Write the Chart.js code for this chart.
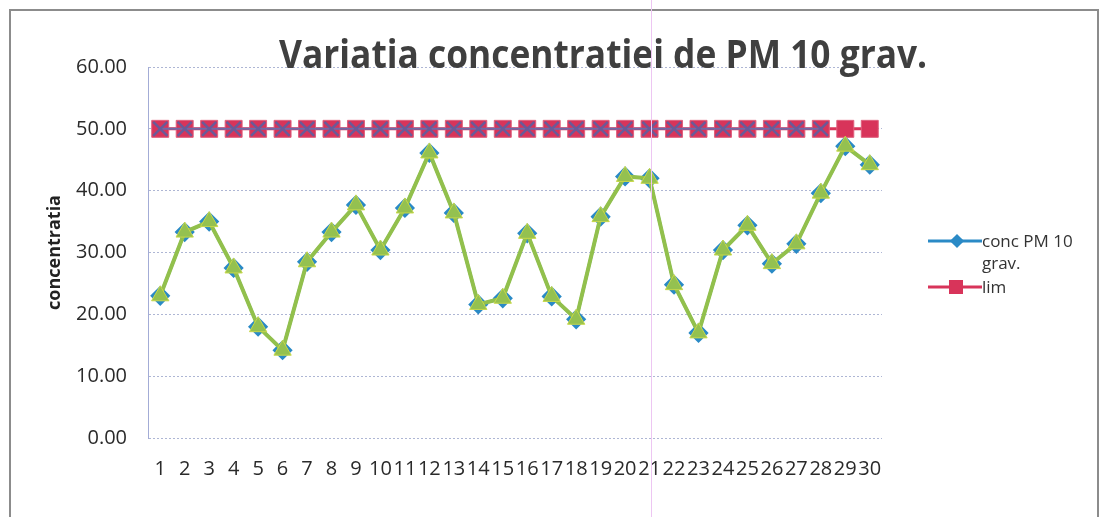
<!DOCTYPE html>
<html>
<head>
<meta charset="utf-8">
<script src="https://cdn.jsdelivr.net/npm/chart.js@4/dist/chart.umd.min.js"></script>
<style>
  body { margin: 0; background: #fff; font-family: 'Open Sans', sans-serif; }
  #wrap { position: relative; width: 1104px; height: 517px; overflow: hidden; }
  #frame { position: absolute; left: 9px; top: 9px; width: 1086px; height: 560px; border: 2px solid #8c8c8c; }
  #titulo { position: absolute; left: 0; top: 25px; white-space: nowrap; font-weight: 700; font-size: 40px; color: #3f3f3f; transform-origin: 0 0; }
  #leyenda { position: absolute; left: 928px; top: 230px; font-size: 17px; color: #333; line-height: 22px; }
  #leyenda .item { display: flex; align-items: flex-start; }
  #leyenda svg { flex: none; margin-top: 3px; }
  #artefacto { position: absolute; left: 651px; top: 0; width: 1px; height: 517px; background: #edc6f2; }
  canvas { position: absolute; left: 0; top: 0; }
</style>
</head>
<body>
<div id="wrap">
  <div id="frame"></div>
  <canvas id="grafico" width="1104" height="517"></canvas>
  <div id="titulo">Variatia concentratiei de PM 10 grav.</div>
  <div id="leyenda">
    <div class="item">
      <svg width="54" height="16"><line x1="0" y1="8" x2="54" y2="8" stroke="#2a8ac6" stroke-width="3"/><rect x="24" y="3" width="10" height="10" fill="#2a8ac6" transform="rotate(45 29 8)"/></svg>
      <span>conc PM 10<br>grav.</span>
    </div>
    <div class="item" style="margin-top:2px">
      <svg width="54" height="16"><line x1="0" y1="8" x2="54" y2="8" stroke="#d8345a" stroke-width="3"/><rect x="21" y="1" width="14" height="14" fill="#d8345a"/></svg>
      <span>lim</span>
    </div>
  </div>
  <div id="artefacto"></div>
</div>
<script>
const dias = ['1','2','3','4','5','6','7','8','9','10','11','12','13','14','15','16','17','18','19','20','21','22','23','24','25','26','27','28','29','30'];
const concPM10 = [23.0, 33.3, 35.0, 27.5, 18.0, 14.2, 28.5, 33.3, 37.7, 30.4, 37.2, 46.1, 36.4, 21.6, 22.6, 33.1, 22.9, 19.2, 35.8, 42.3, 42.0, 24.8, 17.0, 30.4, 34.4, 28.2, 31.4, 39.6, 47.2, 44.2];
const lim = [50, 50, 50, 50, 50, 50, 50, 50, 50, 50, 50, 50, 50, 50, 50, 50, 50, 50, 50, 50, 50, 50, 50, 50, 50, 50, 50, 50, 50, 50];
const limX = [50, 50, 50, 50, 50, 50, 50, 50, 50, 50, 50, 50, 50, 50, 50, 50, 50, 50, 50, 50, 50, 50, 50, 50, 50, 50, 50, 50, null, null];
const ticksY = [0, 10, 20, 30, 40, 50, 60];

// titulo centrado sobre el grafico, ajustado al ancho del original
const titulo = document.getElementById('titulo');
const anchoTitulo = 648;
const escala = anchoTitulo / titulo.offsetWidth;
titulo.style.left = (603 - anchoTitulo / 2) + 'px';
titulo.style.transform = `scaleX(${escala})`;

const ctx = document.getElementById('grafico').getContext('2d');
new Chart(ctx, {
  type: 'line',
  data: {
    labels: dias,
    datasets: [
      {
        label: 'conc PM 10 grav.',
        data: concPM10,
        borderColor: '#2a8ac6',
        backgroundColor: '#2a8ac6',
        borderWidth: 3,
        pointStyle: 'rectRot',
        pointRadius: 8,
        order: 4
      },
      {
        label: 'lim',
        data: lim,
        borderColor: '#d8345a',
        backgroundColor: '#d8345a',
        borderWidth: 3,
        pointStyle: 'rect',
        pointRadius: 12,
        pointBorderWidth: 1,
        pointBorderColor: '#e0607e',
        order: 3
      },
      {
        label: 'lim x',
        data: limX,
        borderColor: '#6e6aa8',
        backgroundColor: '#6e6aa8',
        borderWidth: 2,
        pointStyle: 'crossRot',
        pointRadius: 10,
        pointBorderWidth: 2.5,
        pointBorderColor: '#6a5a98',
        order: 2
      },
      {
        label: 'conc',
        data: concPM10,
        borderColor: '#92c04c',
        backgroundColor: '#94c150',
        borderWidth: 4,
        pointStyle: 'triangle',
        pointRadius: 10,
        pointBorderColor: '#c8d84a',
        pointBorderWidth: 1,
        order: 1
      }
    ]
  },
  options: {
    responsive: false,
    animation: false,
    layout: { padding: { left: 0, right: 222, top: 67, bottom: 0 } },
    plugins: {
      legend: { display: false },
      tooltip: { enabled: false }
    },
    scales: {
      x: {
        offset: true,
        grid: { display: false, drawTicks: false },
        border: { display: false },
        ticks: {
          autoSkip: false,
          maxRotation: 0,
          padding: 19,
          color: '#2a2a2a',
          font: { family: 'Open Sans', size: 20 }
        },
        afterFit: (scale) => { scale.height = 79; }
      },
      y: {
        min: 0,
        max: 60,
        afterBuildTicks: (scale) => { scale.ticks = ticksY.map(v => ({ value: v })); },
        grid: { color: '#aeb6d4', lineWidth: 1, drawTicks: false },
        // en v4 dash se aplica a las lineas de la grilla (punteadas)
        border: { color: '#a3acd6', width: 1, dash: [2, 2] },
        ticks: {
          padding: 21,
          color: '#2a2a2a',
          font: { family: 'Open Sans', size: 20 },
          callback: (v) => Number(v).toFixed(2)
        },
        title: {
          display: true,
          text: 'concentratia',
          color: '#222',
          font: { family: 'Open Sans', size: 18, weight: 'bold' },
          padding: { top: 44, bottom: 0 }
        },
        afterFit: (scale) => { scale.width = 148; }
      }
    }
  }
});
</script>
</body>
</html>
